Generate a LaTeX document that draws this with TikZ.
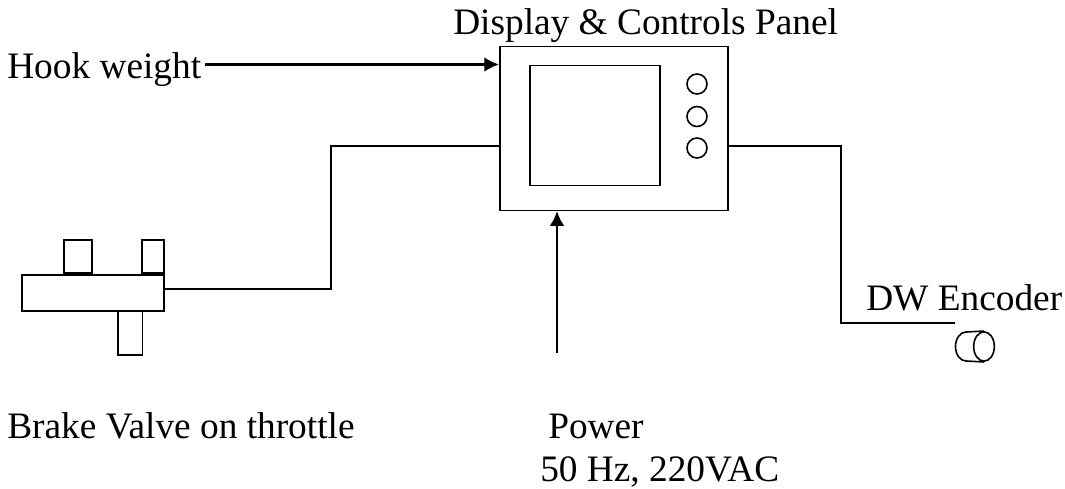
\documentclass[tikz,border=0pt]{standalone}
\usepackage{fontspec}
\setmainfont{Liberation Serif}
\usetikzlibrary{arrows.meta,shapes.geometric}
\tikzset{
  lbl/.style={inner sep=0pt,font=\fontsize{28}{30}\selectfont,anchor=base west},
  box/.style={draw=black,line width=1.2pt,inner sep=0pt},
  wire/.style={draw=black,line width=1.2pt},
  arrow/.style={draw=black,line width=1.7pt,-{Latex[length=11pt,width=11pt]}}
}
\begin{document}
\begin{tikzpicture}[x=0.75pt,y=-0.75pt]
\useasboundingbox (0,0) rectangle (1065,489);
\node[box,minimum width=171pt,minimum height=123pt,anchor=north west] (panel) at (499,45.5) {};
\node[box,minimum width=97.5pt,minimum height=90pt,anchor=north west] (screen) at (529,64.5) {};
\node[box,circle,minimum size=15pt] (c1) at (697,84) {};
\node[box,circle,minimum size=15pt] (c2) at (697,116.5) {};
\node[box,circle,minimum size=15pt] (c3) at (697,148) {};
\node[box,minimum width=21pt,minimum height=25pt,anchor=south west] (v1) at (63,274) {};
\node[box,minimum width=16.5pt,minimum height=25pt,anchor=south west] (v2) at (141,274) {};
\node[box,minimum width=18.5pt,minimum height=33pt,anchor=north west] (v3) at (117,310) {};
\node[box,minimum width=106.5pt,minimum height=27pt,anchor=north west] (valve) at (21,274) {};
\node[lbl] (t1) at (453,34.5) {Display \& Controls Panel};
\node[lbl] (t2) at (7,78) {Hook weight};
\node[lbl] (t3) at (866,310.5) {DW Encoder};
\node[lbl] (t4) at (7,438) {Brake Valve on throttle};
\node[lbl] (t5) at (548,438) {Power};
\node[lbl] (t6) at (540,481) {50 Hz, 220VAC};
\coordinate (ws) at (205,64.5);
\coordinate (pw) at (557,353);
\draw[arrow] (ws) -- (panel.west |- ws);
\draw[arrow] (pw) -- (panel.south -| pw);
\coordinate (la) at (331,146);
\coordinate (lb) at (331,289);
\draw[wire] (valve.east |- lb) -- (lb) -- (la) -- (panel.west |- la);
\coordinate (en) at (955,323);
\coordinate (ra) at (841,146);
\draw[wire] (panel.east |- ra) -- (ra) -- (ra |- en) -- (en);
\node[box,ellipse,minimum width=15.5pt,minimum height=22pt] (enc) at (984,346.5) {};
\draw[wire] (enc.north) -- (966,332) arc (-90:-270:10.5 and 14.5) -- (enc.south);
\end{tikzpicture}
\end{document}
